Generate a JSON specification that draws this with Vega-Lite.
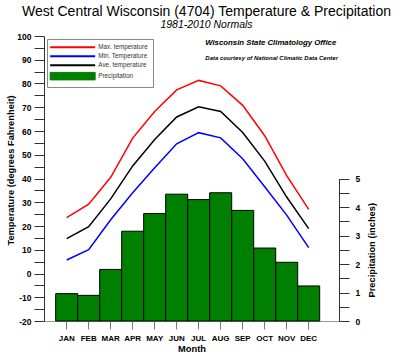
{
  "$schema": "https://vega.github.io/schema/vega-lite/v6.json",
  "width": 295,
  "height": 285,
  "autosize": "none",
  "padding": {"left": 44, "top": 36, "right": 61, "bottom": 35},
  "config": {"font": "Liberation Sans", "view": {"stroke": null}},
  "title": {
    "text": "West Central Wisconsin (4704) Temperature & Precipitation",
    "subtitle": "1981-2010 Normals",
    "anchor": "middle",
    "frame": "group",
    "dx": 15,
    "offset": 2,
    "fontSize": 14,
    "fontWeight": "normal",
    "color": "black",
    "subtitleFontSize": 10.5,
    "subtitleFontStyle": "italic",
    "subtitleColor": "black",
    "subtitlePadding": 1
  },
  "datasets": {
    "temps": [
      {"month": "JAN", "series": "Max. temperature", "temp": 23.5},
      {"month": "FEB", "series": "Max. temperature", "temp": 29.2},
      {"month": "MAR", "series": "Max. temperature", "temp": 40.5},
      {"month": "APR", "series": "Max. temperature", "temp": 57.0},
      {"month": "MAY", "series": "Max. temperature", "temp": 68.2},
      {"month": "JUN", "series": "Max. temperature", "temp": 77.3},
      {"month": "JUL", "series": "Max. temperature", "temp": 81.3},
      {"month": "AUG", "series": "Max. temperature", "temp": 79.0},
      {"month": "SEP", "series": "Max. temperature", "temp": 70.8},
      {"month": "OCT", "series": "Max. temperature", "temp": 58.0},
      {"month": "NOV", "series": "Max. temperature", "temp": 41.2},
      {"month": "DEC", "series": "Max. temperature", "temp": 27.0},
      {"month": "JAN", "series": "Min. Temperature", "temp": 5.7},
      {"month": "FEB", "series": "Min. Temperature", "temp": 10.0},
      {"month": "MAR", "series": "Min. Temperature", "temp": 22.6},
      {"month": "APR", "series": "Min. Temperature", "temp": 34.0},
      {"month": "MAY", "series": "Min. Temperature", "temp": 44.5},
      {"month": "JUN", "series": "Min. Temperature", "temp": 54.6},
      {"month": "JUL", "series": "Min. Temperature", "temp": 59.3},
      {"month": "AUG", "series": "Min. Temperature", "temp": 57.1},
      {"month": "SEP", "series": "Min. Temperature", "temp": 48.3},
      {"month": "OCT", "series": "Min. Temperature", "temp": 36.5},
      {"month": "NOV", "series": "Min. Temperature", "temp": 24.6},
      {"month": "DEC", "series": "Min. Temperature", "temp": 10.9},
      {"month": "JAN", "series": "Ave. temperature", "temp": 14.7},
      {"month": "FEB", "series": "Ave. temperature", "temp": 19.7},
      {"month": "MAR", "series": "Ave. temperature", "temp": 31.4},
      {"month": "APR", "series": "Ave. temperature", "temp": 45.3},
      {"month": "MAY", "series": "Ave. temperature", "temp": 56.4},
      {"month": "JUN", "series": "Ave. temperature", "temp": 65.9},
      {"month": "JUL", "series": "Ave. temperature", "temp": 70.2},
      {"month": "AUG", "series": "Ave. temperature", "temp": 68.2},
      {"month": "SEP", "series": "Ave. temperature", "temp": 59.4},
      {"month": "OCT", "series": "Ave. temperature", "temp": 47.3},
      {"month": "NOV", "series": "Ave. temperature", "temp": 32.2},
      {"month": "DEC", "series": "Ave. temperature", "temp": 18.9}
    ],
    "precip": [
      {"month": "JAN", "precip": 0.96},
      {"month": "FEB", "precip": 0.90},
      {"month": "MAR", "precip": 1.81},
      {"month": "APR", "precip": 3.15},
      {"month": "MAY", "precip": 3.77},
      {"month": "JUN", "precip": 4.45},
      {"month": "JUL", "precip": 4.26},
      {"month": "AUG", "precip": 4.50},
      {"month": "SEP", "precip": 3.88},
      {"month": "OCT", "precip": 2.56},
      {"month": "NOV", "precip": 2.06},
      {"month": "DEC", "precip": 1.23}
    ],
    "notes": [
      {"label": "Wisconsin State Climatology Office", "month": "OCT", "temp": 97.2, "kind": "office"},
      {"label": "Data courtesy of National Climatic Data Center", "month": "OCT", "temp": 90.9, "kind": "credit"}
    ]
  },
  "encoding": {
    "x": {
      "field": "month",
      "type": "nominal",
      "sort": null,
      "scale": {
        "domain": ["JAN","FEB","MAR","APR","MAY","JUN","JUL","AUG","SEP","OCT","NOV","DEC"],
        "paddingInner": 0,
        "paddingOuter": 0.7045,
        "align": 0.377
      },
      "axis": {
        "title": "Month",
        "labelAngle": 0,
        "tickSize": 8,
        "tickColor": "#777777",
        "domainColor": "#999999",
        "labelFontWeight": "bold",
        "labelFontSize": 8,
        "labelColor": "black",
        "labelPadding": 5,
        "titleFontWeight": "bold",
        "titleFontSize": 9.3,
        "titleColor": "black",
        "titlePadding": 2
      }
    }
  },
  "layer": [
    {
      "data": {"name": "precip"},
      "mark": {"type": "bar", "stroke": "black", "strokeWidth": 1},
      "encoding": {
        "y": {
          "field": "precip",
          "type": "quantitative",
          "scale": {"domain": [0, 5], "range": [285, 142.5], "nice": false, "zero": true},
          "axis": {
            "orient": "right",
            "title": "Precipitation (inches)",
            "values": [0, 0.5, 1, 1.5, 2, 2.5, 3, 3.5, 4, 4.5, 5],
            "labelExpr": "datum.value % 1 === 0 ? '' + datum.value : ''",
            "labelOverlap": false,
            "labelFlush": false,
            "tickSize": 10,
            "labelPadding": 6,
            "tickColor": "#333333",
            "domainColor": "#333333",
            "labelFontWeight": "bold",
            "labelFontSize": 8.5,
            "labelColor": "black",
            "titleFontWeight": "bold",
            "titleFontSize": 9.3,
            "titleColor": "black",
            "titleAngle": 270,
            "titleX": 32,
            "titleY": 213.75,
            "titleAlign": "center",
            "titleBaseline": "middle",
            "grid": false,
            "encode": {
              "ticks": {
                "update": {
                  "x": {"signal": "datum.value % 1 === 0 ? -10 : -5"},
                  "x2": {"signal": "datum.value % 1 === 0 ? 10 : 0"}
                }
              }
            }
          }
        },
        "color": {
          "datum": "Precipitation",
          "type": "nominal",
          "scale": {
            "domain": ["Max. temperature", "Min. Temperature", "Ave. temperature", "Precipitation"],
            "range": ["#ff0000", "#0000ff", "#000000", "#008000"]
          }
        }
      }
    },
    {
      "encoding": {
        "y": {
          "field": "temp",
          "type": "quantitative",
          "scale": {"domain": [-20, 100], "nice": false, "zero": false},
          "axis": {
            "orient": "left",
            "title": "Temperature (degrees Fahrenheit)",
            "values": [-20,-15,-10,-5,0,5,10,15,20,25,30,35,40,45,50,55,60,65,70,75,80,85,90,95,100],
            "labelExpr": "datum.value % 10 === 0 ? '' + datum.value : ''",
            "labelOverlap": false,
            "labelFlush": false,
            "tickSize": 10,
            "labelPadding": 3,
            "tickColor": "#333333",
            "domainColor": "#333333",
            "labelFontWeight": "bold",
            "labelFontSize": 8.5,
            "labelColor": "black",
            "titleFontWeight": "bold",
            "titleFontSize": 9.3,
            "titleColor": "black",
            "titlePadding": 1,
            "titleY": 134,
            "grid": false,
            "encode": {
              "ticks": {
                "update": {
                  "x2": {"signal": "datum.value % 10 === 0 ? -10 : -5"}
                }
              }
            }
          }
        }
      },
      "layer": [
        {
          "data": {"name": "temps"},
          "mark": {"type": "line", "strokeWidth": 1.5},
          "encoding": {
            "color": {
              "field": "series",
              "type": "nominal",
              "scale": {
                "domain": ["Max. temperature", "Min. Temperature", "Ave. temperature", "Precipitation"],
                "range": ["#ff0000", "#0000ff", "#000000", "#008000"]
              },
              "legend": {
                "title": null,
                "orient": "none",
                "legendX": 3,
                "legendY": 3,
                "padding": 5,
                "fillColor": "white",
                "strokeColor": "#888888",
                "labelFontSize": 6.3,
                "labelColor": "#333333",
                "labelOffset": 40,
                "symbolSize": 100,
                "rowPadding": 0,
                "values": ["Max. temperature", "Min. Temperature", "Ave. temperature", "Precipitation"],
                "encode": {
                  "symbols": {
                    "update": {
                      "shape": {"signal": "datum.value === 'Precipitation' ? 'M-1,-0.75H8V0.75H-1Z' : 'M-1,0H8'"},
                      "fill": {"signal": "datum.value === 'Precipitation' ? '#008000' : 'transparent'"},
                      "stroke": {"signal": "datum.value === 'Precipitation' ? '#000000' : scale('color', datum.value)"},
                      "strokeWidth": {"signal": "datum.value === 'Precipitation' ? 1 : 2"},
                      "opacity": {"value": 1}
                    }
                  }
                }
              }
            }
          }
        },
        {
          "data": {"name": "notes"},
          "transform": [{"filter": "datum.kind === 'office'"}],
          "mark": {"type": "text", "fontSize": 7.8, "fontWeight": "bold", "fontStyle": "italic", "dx": 6, "align": "center", "baseline": "middle", "color": "black"},
          "encoding": {
            "text": {"field": "label"}
          }
        },
        {
          "data": {"name": "notes"},
          "transform": [{"filter": "datum.kind === 'credit'"}],
          "mark": {"type": "text", "fontSize": 6, "fontWeight": "bold", "fontStyle": "italic", "dx": 7, "align": "center", "baseline": "middle", "color": "black"},
          "encoding": {
            "text": {"field": "label"}
          }
        }
      ]
    }
  ],
  "resolve": {"scale": {"y": "independent"}}
}
